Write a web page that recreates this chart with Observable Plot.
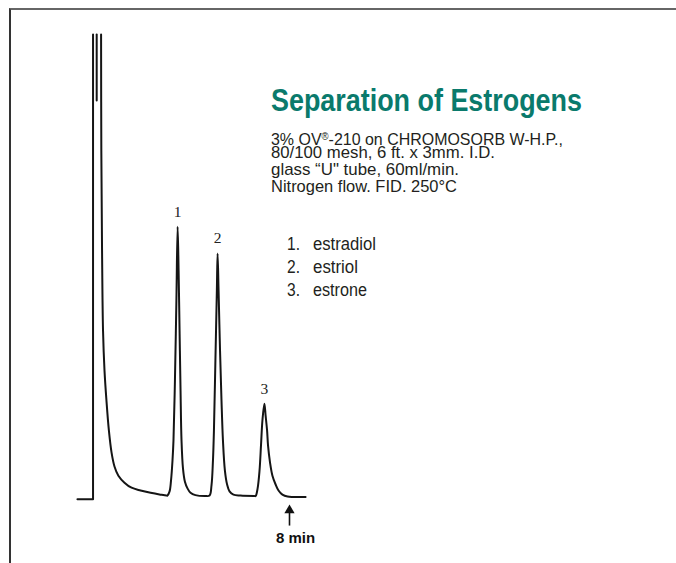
<!DOCTYPE html>
<html><head><meta charset="utf-8">
<script src="https://cdn.jsdelivr.net/npm/d3@7"></script>
<script src="https://cdn.jsdelivr.net/npm/@observablehq/plot@0.6"></script>
<style>
html,body{margin:0;padding:0;background:#fff;}
#wrap{position:relative;width:676px;height:563px;overflow:hidden;}
#frame{position:absolute;left:9px;top:8px;width:700px;height:600px;border-top:2px solid #666;border-left:2px solid #333;}
#chart{position:absolute;left:0;top:0;}
</style></head><body>
<div id="wrap"><div id="frame"></div><div id="chart"></div></div>
<script>
// Retention time (min) / detector response (% of full scale)
const preInjection = [[-0.70,-0.6],[-0.06,-0.6],[-0.06,100]];
const penMark = [[0.09,100],[0.09,85.7]];
const elution = [
  [0.27,100],[0.28,74.9],[0.31,53.2],[0.35,35.9],[0.41,27.3],[0.49,20.8],[0.59,14.3],[0.70,9.5],
  [0.82,6.5],[0.98,4.5],[1.23,3.0],[1.52,1.9],[1.89,1.3],[2.30,0.8],[2.71,0.4],[2.95,0.2],
  [2.99,0.2],[3.08,1.1],[3.14,3.5],[3.20,7.8],[3.24,12.1],[3.30,25.1],[3.36,42.4],[3.41,58.4],
  [3.45,48.9],[3.49,35.9],[3.53,22.9],[3.57,12.1],[3.63,6.1],[3.71,3.2],[3.82,1.7],[3.94,0.8],[4.14,0.3],[4.55,0.1],
  [4.72,0.2],[4.80,2.4],[4.86,7.8],[4.90,14.3],[4.96,29.4],[5.02,44.6],[5.05,52.6],
  [5.09,44.6],[5.15,31.6],[5.21,20.8],[5.27,12.1],[5.35,5.6],[5.44,2.6],[5.54,1.1],[5.70,0.4],[5.99,0.2],[6.56,0.1],
  [6.61,0.1],[6.69,1.7],[6.77,5.6],[6.83,11.0],[6.89,16.5],[6.97,20.1],
  [7.02,17.5],[7.08,14.3],[7.12,11.0],[7.20,7.4],[7.30,4.5],[7.43,2.6],[7.55,1.3],[7.71,0.4],[7.92,0],[8.66,-0.1]
];
const peakLabels = ["1","2","3"];
const peakTimes = [3.41,5.05,6.97];
const peakHeights = [58.4,52.6,20.1];
const compounds = ["estradiol","estriol","estrone"];
const endMarkTime = 8;
const endMarkLabel = "8 min";
const titleText = "Separation of Estrogens";
const conditions = ["3% OV®-210 on CHROMOSORB W-H.P.,","80/100 mesh, 6 ft. x 3mm. I.D.","glass “U\" tube, 60ml/min.","Nitrogen flow. FID. 250°C"];

const toRows = (arr, seg) => arr.map(([t,s])=>({t,s,seg}));
const marksTrace = [...toRows(preInjection,"pre"), ...toRows(penMark,"pen")];
const elutionRows = toRows(elution,"main");
const peaks = peakLabels.map((label,i)=>({label,t:peakTimes[i],s:peakHeights[i]}));

const chart = Plot.plot({
  width: 676, height: 563,
  x: {domain:[0,8], range:[94,289], axis:null},
  y: {domain:[0,100], range:[496,34], axis:null},
  marks: [
    Plot.line(marksTrace, {x:"t", y:"s", z:"seg", curve:"linear", stroke:"#151515", strokeWidth:2}),
    Plot.line(elutionRows, {x:"t", y:"s", curve:"catmull-rom", stroke:"#151515", strokeWidth:2}),
    Plot.text(peaks, {x:"t", y:"s", text:"label", dy:-15, fontFamily:"Liberation Serif, serif", fontSize:15.5, fill:"#222"}),
    Plot.ruleX([{t:endMarkTime}], {x:"t", y1:-6.4, y2:-3.6, stroke:"#111", strokeWidth:1.6}),
    Plot.dot([{t:endMarkTime}], {x:"t", y:-3.0, symbol:"triangle", r:3.8, fill:"#111", stroke:"none"}),
    Plot.text([{t:endMarkTime, label:endMarkLabel}], {x:"t", y:-9.1, dx:6, text:"label", fontFamily:"Liberation Sans, Arial, sans-serif", fontWeight:"bold", fontSize:15, fill:"#111"})
  ]
});
document.getElementById("chart").appendChild(chart);

const svg = d3.select(chart);
const g = svg.append("g").attr("font-family", "'Liberation Sans',Arial,sans-serif").attr("text-anchor","start");
function addText(x, y, size, len, str, opts = {}) {
  const t = g.append("text").attr("x",x).attr("y",y).attr("font-size",size)
    .attr("fill", opts.fill || "#231f20").attr("font-weight", opts.weight || "normal")
    .attr("textLength", len).attr("lengthAdjust","spacingAndGlyphs");
  if (str.includes("®")) {
    const [a,b] = str.split("®");
    t.append("tspan").text(a);
    t.append("tspan").attr("font-size",size*0.6).attr("dy",-size*0.32).text("®");
    t.append("tspan").attr("dy",size*0.32).text(b);
  } else t.text(str);
  return t;
}
addText(271, 111, 31, 311, titleText, {fill:"#0a7a6c", weight:"bold"});
const baselines = [145,158,175,192];
const lineLengths = [292,224,188,186];
conditions.forEach((line,i)=> addText(271, baselines[i], 17, lineLengths[i], line));
const nameLengths = [63,45,54];
compounds.forEach((c,i)=>{
  addText(287, 250+i*23, 17.5, 13, `${i+1}.`);
  addText(313, 250+i*23, 17.5, nameLengths[i], c);
});
</script>
</body></html>
